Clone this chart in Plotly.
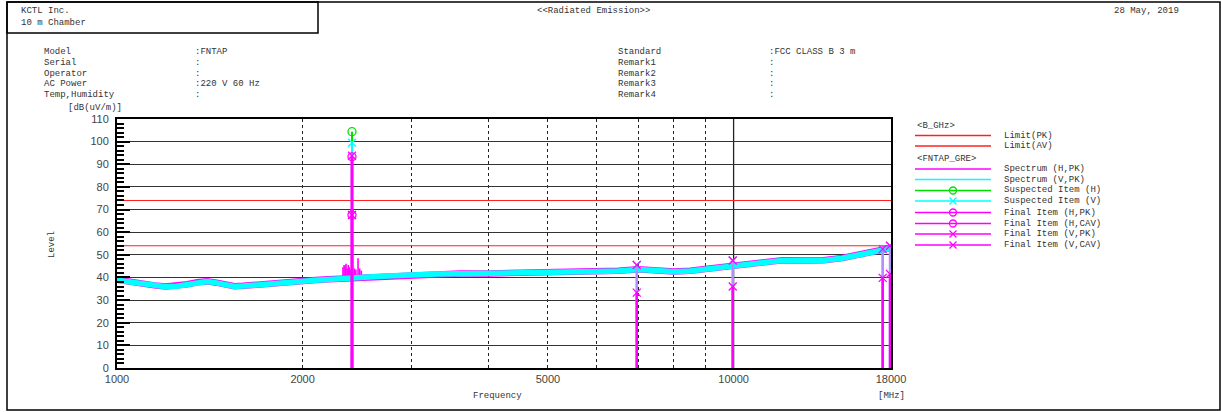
import plotly.graph_objects as go
import numpy as np
import math

# ---------------- data ----------------
band_freq = [1000, 1050, 1100, 1150, 1200, 1250, 1300, 1350, 1400, 1450, 1500, 1550, 1600,
             1700, 1800, 1900, 2000, 2100, 2200, 2300, 2400, 2500, 2600, 2800, 3000, 3300,
             3600, 4000, 4500, 5000, 5500, 6000, 6500, 7000, 7500, 8000, 8500, 9000, 9500,
             10000, 11000, 12000, 13000, 14000, 15000, 16000, 17000, 18000]
band_h = [39.0, 38.0, 37.2, 36.5, 36.0, 36.2, 37.0, 37.9, 38.3, 37.7, 36.7, 36.1, 36.3,
          37.0, 37.6, 38.1, 38.6, 38.9, 39.2, 39.4, 39.6, 40.0, 40.4, 40.9, 41.3, 41.6,
          41.7, 41.8, 42.0, 42.3, 42.5, 42.7, 43.0, 43.6, 43.2, 42.6, 43.0, 43.8, 44.6,
          45.4, 46.6, 47.6, 47.5, 47.6, 48.6, 50.3, 51.6, 53.0]
band_v = [38.8, 37.9, 37.1, 36.4, 35.9, 36.1, 36.9, 37.8, 38.2, 37.6, 36.6, 36.0, 36.2,
          36.9, 37.5, 38.0, 38.5, 38.8, 39.1, 39.3, 39.5, 39.9, 40.3, 40.8, 41.2, 41.5,
          41.6, 41.7, 41.9, 42.2, 42.4, 42.6, 42.9, 43.5, 43.1, 42.5, 42.9, 43.7, 44.5,
          45.3, 46.5, 47.5, 47.4, 47.5, 48.5, 50.2, 51.5, 52.8]

# narrow-band spurs on the spectra (frequency MHz, peak level)
spur_h_freq = [2325, 2335, 2345, 2352, 2362, 2372, 2380, 2390, 2405, 2425, 2440, 2460, 2475, 2490]
spur_h_level = [44.5, 45.5, 45.0, 46.0, 44.0, 45.5, 44.5, 43.5, 93.0, 44.0, 43.5, 48.5, 44.0, 43.0]
spur_v_freq = [2405, 2412]
spur_v_level = [60.0, 55.0]

limit_pk = 74.0
limit_av = 54.0

susp_h_freq = [2405]
susp_h_level = [104.4]
susp_v_freq = [2405, 6966, 9968, 17450, 17935]
susp_v_level = [99.5, 45.5, 47.5, 52.5, 54.0]

final_h_freq = [2405]
final_h_pk = [93.3]
final_h_cav = [67.6]
final_v_freq = [2405, 6966, 9968, 17450, 17935]
final_v_pk = [93.8, 45.5, 47.5, 52.5, 54.0]
final_v_cav = [67.6, 33.3, 36.0, 39.8, 41.5]

x_tick_vals = [1000, 2000, 5000, 10000, 18000]
x_tick_text = ["1000", "2000", "5000", "10000", "18000"]
x_grid_vals = [2000, 3000, 4000, 5000, 6000, 7000, 8000, 9000, 10000]

info_left = [("Model", ":FNTAP"), ("Serial", ":"), ("Operator", ":"),
             ("AC Power", ":220 V 60 Hz"), ("Temp,Humidity", ":")]
info_right = [("Standard", ":FCC CLASS B 3 m"), ("Remark1", ":"), ("Remark2", ":"),
              ("Remark3", ":"), ("Remark4", ":")]

# ---------------- layout helpers ----------------
W, H = 1221, 412
def px(x):
    return x / W
def py(y):
    return 1 - y / H

MAG = "#ff00ff"
CYAN = "#00ffff"
GREEN = "#00e000"
RED = "#ff2020"
LAV = "#b48cff"
FONT = "Liberation Mono"

def stems(freqs, levels, bases=None):
    xs, ys = [], []
    if bases is None:
        bases = [0] * len(freqs)
    for f, v, b in zip(freqs, levels, bases):
        xs += [f, f, None]
        ys += [b, v, None]
    return xs, ys

def band_at(freqs, bf, bl):
    return list(np.interp(np.log10(freqs), np.log10(bf), bl))

fig = go.Figure()

# limits
fig.add_trace(go.Scatter(x=[band_freq[0], band_freq[-1]], y=[limit_pk, limit_pk], mode="lines",
                         line=dict(color=RED, width=1.2), showlegend=False))
fig.add_trace(go.Scatter(x=[band_freq[0], band_freq[-1]], y=[limit_av, limit_av], mode="lines",
                         line=dict(color=RED, width=1.2), showlegend=False))

# spectra
sx, sy = stems(spur_h_freq, spur_h_level, band_at(spur_h_freq, band_freq, band_h))
fig.add_trace(go.Scatter(x=sx, y=sy, mode="lines", line=dict(color=MAG, width=1.6), showlegend=False))
fig.add_trace(go.Scatter(x=band_freq, y=band_h, mode="lines",
                         line=dict(color=MAG, width=6.5), showlegend=False))
fig.add_trace(go.Scatter(x=band_freq, y=band_v, mode="lines",
                         line=dict(color=CYAN, width=5.5), showlegend=False))
sx, sy = stems(spur_v_freq, spur_v_level, band_at(spur_v_freq, band_freq, band_v))
fig.add_trace(go.Scatter(x=sx, y=sy, mode="lines", line=dict(color=CYAN, width=1.5), showlegend=False))

# item stems
sx, sy = stems(susp_h_freq, susp_h_level)
fig.add_trace(go.Scatter(x=sx, y=sy, mode="lines", line=dict(color=GREEN, width=2), showlegend=False))
sx, sy = stems(susp_v_freq, susp_v_level)
fig.add_trace(go.Scatter(x=sx, y=sy, mode="lines", line=dict(color=CYAN, width=2), showlegend=False))
sx, sy = stems(final_v_freq, final_v_pk)
fig.add_trace(go.Scatter(x=sx, y=sy, mode="lines", line=dict(color=LAV, width=2.5), showlegend=False))
sx, sy = stems(final_h_freq, final_h_pk)
fig.add_trace(go.Scatter(x=sx, y=sy, mode="lines", line=dict(color=MAG, width=3), showlegend=False))
sx, sy = stems(final_v_freq, final_v_cav)
fig.add_trace(go.Scatter(x=sx, y=sy, mode="lines", line=dict(color=MAG, width=2.5), showlegend=False))

# markers
def marks(f, v, sym, color):
    fig.add_trace(go.Scatter(x=f, y=v, mode="markers", showlegend=False,
                             marker=dict(symbol=sym, size=8, color=color,
                                         line=dict(color=color, width=1.3))))
marks(susp_h_freq, susp_h_level, "circle-open", GREEN)
marks(susp_v_freq, susp_v_level, "x-thin-open", CYAN)
marks(final_h_freq, final_h_pk, "circle-open", MAG)
marks(final_h_freq, final_h_cav, "circle-open", MAG)
marks(final_v_freq, final_v_pk, "x-thin-open", MAG)
marks(final_v_freq, final_v_cav, "x-thin-open", MAG)

# axes
x0, x1, y0, y1 = 117, 891, 119, 368
fig.update_layout(
    template="none",
    width=W, height=H, margin=dict(l=0, r=0, t=0, b=0, pad=0),
    paper_bgcolor="white", plot_bgcolor="white", showlegend=False,
    xaxis=dict(type="log", range=[math.log10(1000), math.log10(18000)], automargin=False,
               domain=[px(x0), px(x1)], showgrid=False, zeroline=False,
               tickvals=x_tick_vals, ticktext=x_tick_text, ticks="",
               tickfont=dict(family="Liberation Sans", size=11, color="#444"),
               showline=True, linecolor="black", linewidth=2, mirror=True,
               minor=dict(tickvals=x_grid_vals, showgrid=True, gridcolor="#222",
                          griddash="dot", gridwidth=1, ticks="")),
    yaxis=dict(range=[0, 110], domain=[py(y1), py(y0)], dtick=10, automargin=False,
               showgrid=True, gridcolor="#333", gridwidth=1, zeroline=False,
               ticks="inside", ticklen=13, tickwidth=2, tickcolor="black",
               tickfont=dict(family="Liberation Sans", size=11, color="#444"),
               ticklabelstandoff=4,
               showline=True, linecolor="black", linewidth=2, mirror=True,
               minor=dict(dtick=2, ticks="inside", ticklen=7, tickwidth=1.5,
                          tickcolor="black", showgrid=False)),
)

shapes = []
shapes.append(dict(type="rect", xref="paper", yref="paper", x0=px(7), x1=px(1220),
                   y0=py(410), y1=py(2), line=dict(color="black", width=1.5)))
shapes.append(dict(type="rect", xref="paper", yref="paper", x0=px(7), x1=px(318),
                   y0=py(33), y1=py(2), line=dict(color="black", width=1.5)))
shapes.append(dict(type="line", xref="x", yref="y", x0=x_grid_vals[-1], x1=x_grid_vals[-1],
                   y0=0, y1=110, line=dict(color="#222", width=1.3), layer="below"))

annotations = []
def txt(x, y, s, anchor="left", size=9, color="#333", family=FONT, angle=0):
    annotations.append(dict(x=px(x), y=py(y), xref="paper", yref="paper", text=s,
                            showarrow=False, xanchor=anchor, yanchor="middle",
                            textangle=angle, font=dict(family=family, size=size, color=color)))

txt(19, 11, "KCTL Inc.")
txt(19, 23, "10 m Chamber")
txt(593, 11, "&lt;&lt;Radiated Emission&gt;&gt;", anchor="center")
txt(1112, 11, "28 May, 2019")

for i, (k, v) in enumerate(info_left):
    yy = 52 + i * 10.8
    txt(42, yy, k)
    txt(193, yy, v)
for i, (k, v) in enumerate(info_right):
    yy = 52 + i * 10.8
    txt(616, yy, k)
    txt(767, yy, v)

txt(66, 108, "[dB(uV/m)]")
txt(52, 245, "Level", anchor="center", angle=-90)
txt(497, 396, "Frequency", anchor="center")
txt(876, 396, "[MHz]")

# legend
lx0, lx1, mx, tx = 915, 991, 953, 1002
txt(lx0, 126, "&lt;B_GHz&gt;")
legend_rows = [
    (135.5, RED, None, "Limit(PK)"),
    (146, RED, None, "Limit(AV)"),
    (169, MAG, None, "Spectrum (H,PK)"),
    (179.5, CYAN, None, "Spectrum (V,PK)"),
    (190.5, GREEN, "o", "Suspected Item (H)"),
    (201, CYAN, "x", "Suspected Item (V)"),
    (212.5, MAG, "o", "Final Item (H,PK)"),
    (223.5, MAG, "o", "Final Item (H,CAV)"),
    (234, MAG, "x", "Final Item (V,PK)"),
    (245, MAG, "x", "Final Item (V,CAV)"),
]
txt(lx0, 159, "&lt;FNTAP_GRE&gt;")
for yy, col, mk, label in legend_rows:
    shapes.append(dict(type="line", xref="paper", yref="paper", x0=px(lx0), x1=px(lx1),
                       y0=py(yy), y1=py(yy), line=dict(color=col, width=1.3)))
    if mk == "o":
        shapes.append(dict(type="circle", xref="paper", yref="paper", x0=px(mx - 3.5), x1=px(mx + 3.5),
                           y0=py(yy + 3.5), y1=py(yy - 3.5), line=dict(color=col, width=1.3)))
    elif mk == "x":
        shapes.append(dict(type="line", xref="paper", yref="paper", x0=px(mx - 3.5), x1=px(mx + 3.5),
                           y0=py(yy + 3.5), y1=py(yy - 3.5), line=dict(color=col, width=1.3)))
        shapes.append(dict(type="line", xref="paper", yref="paper", x0=px(mx - 3.5), x1=px(mx + 3.5),
                           y0=py(yy - 3.5), y1=py(yy + 3.5), line=dict(color=col, width=1.3)))
    txt(tx, yy, label)

fig.update_layout(shapes=shapes, annotations=annotations)
fig.write_html("out.html", config={"displayModeBar": False},
               post_script="document.body.style.margin='0';")
